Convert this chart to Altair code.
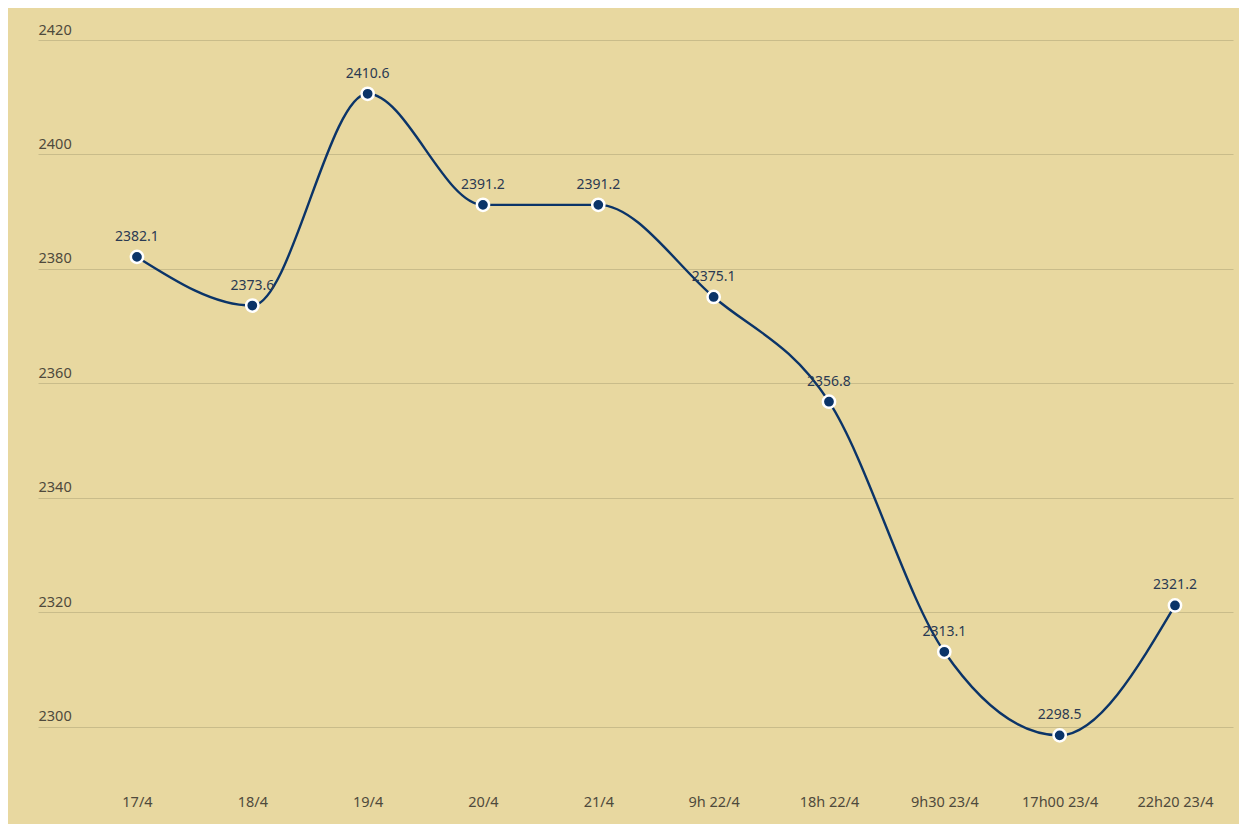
import altair as alt
import pandas as pd

labels = ["17/4", "18/4", "19/4", "20/4", "21/4", "9h 22/4", "18h 22/4", "9h30 23/4", "17h00 23/4", "22h20 23/4"]
values = [2382.1, 2373.6, 2410.6, 2391.2, 2391.2, 2375.1, 2356.8, 2313.1, 2298.5, 2321.2]
y_ticks = [2300, 2320, 2340, 2360, 2380, 2400, 2420]

df = pd.DataFrame({"idx": list(range(len(labels))), "label": labels, "value": values})
df["text"] = [f"{v:.1f}" for v in values]

label_arr = "[" + ",".join(f"'{l}'" for l in labels) + "]"

FONT = "Noto Sans"
BG = "#E8D8A0"
NAVY = "#0B3468"

x_enc = alt.X("idx:Q",
              scale=alt.Scale(domain=[-0.858, 9.503], nice=False, zero=False),
              axis=alt.Axis(values=list(range(len(labels))),
                            labelExpr=f"{label_arr}[datum.value]",
                            grid=False, domain=False, ticks=False,
                            labelPadding=11, labelFontSize=14.5, labelColor="#4F4A3C",
                            labelFont=FONT, title=None))
y_enc = alt.Y("value:Q",
              scale=alt.Scale(domain=[2290, 2420], nice=False, zero=False),
              axis=alt.Axis(values=y_ticks, format="d", grid=True, gridColor="#C9BC8A", gridWidth=1,
                            domain=False, ticks=False, labelAlign="left",
                            labelBaseline="bottom", labelPadding=0, labelOffset=-3,
                            labelFontSize=14.5, labelColor="#4F4A3C", labelFont=FONT,
                            title=None))

base = alt.Chart(df).encode(x=x_enc, y=y_enc)

line = base.mark_line(interpolate="monotone", color=NAVY, strokeWidth=2.4)
pts = base.mark_point(filled=True, size=150, color=NAVY, stroke="white",
                      strokeWidth=2.5, opacity=1)
txt = base.mark_text(dy=-20, fontSize=14, color="#2B3A52", font=FONT).encode(text="text:N")

chart = (line + pts + txt).properties(
    width=1195, height=744,
    background=BG,
    padding={"left": 30, "top": 32, "right": 6, "bottom": 40},
    autosize=alt.AutoSizeParams(type="none"),
).configure_view(stroke=None)

chart.save("out.html", embed_options={"renderer": "svg", "actions": False})
